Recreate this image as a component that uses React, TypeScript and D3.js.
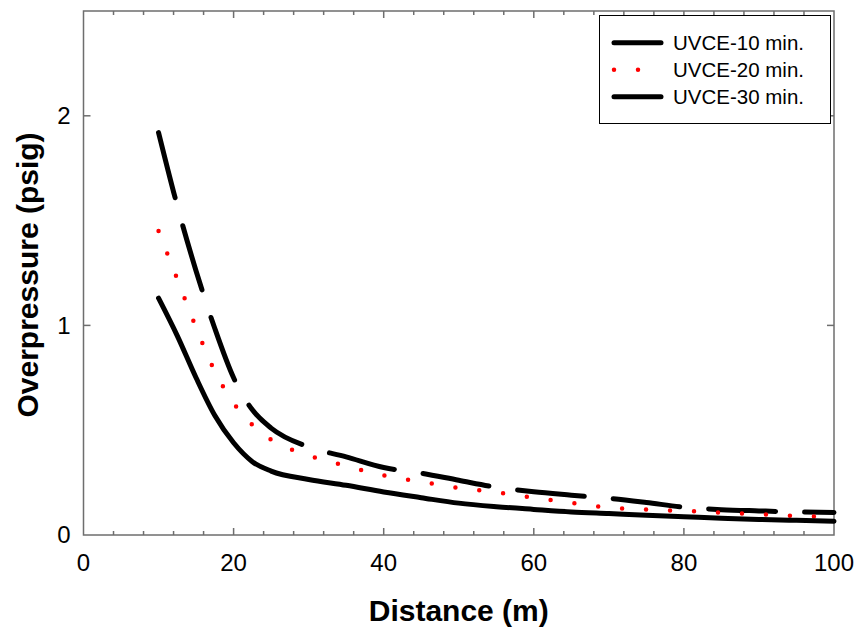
import { useEffect, useRef } from 'react';
import * as d3 from 'd3';

const distances = [10, 12.5, 15, 17.5, 20, 22.5, 25, 30, 35, 40, 45, 50, 55, 60, 65, 70, 75, 80, 85, 90, 95, 100];
const uvce10 = [1.92, 1.57, 1.26, 0.985, 0.75, 0.597, 0.51, 0.42, 0.373, 0.322, 0.295, 0.261, 0.228, 0.206, 0.19, 0.175, 0.155, 0.133, 0.121, 0.115, 0.11, 0.107];
const uvce20 = [1.45, 1.22, 0.99, 0.781, 0.63, 0.525, 0.455, 0.38, 0.33, 0.284, 0.254, 0.224, 0.204, 0.178, 0.154, 0.131, 0.121, 0.115, 0.106, 0.099, 0.091, 0.085];
const uvce30 = [1.13, 0.95, 0.75, 0.57, 0.44, 0.35, 0.305, 0.265, 0.237, 0.205, 0.178, 0.152, 0.135, 0.122, 0.11, 0.102, 0.094, 0.087, 0.08, 0.074, 0.07, 0.066];

const xMajor = [0, 20, 40, 60, 80, 100];
const yMajor = [0, 1, 2];

const series = [
  { name: 'UVCE-10 min.', values: uvce10, color: '#000', width: 5, dash: '67 29' },
  { name: 'UVCE-20 min.', values: uvce20, color: '#ff0000', width: 4.5, dash: '0 24' },
  { name: 'UVCE-30 min.', values: uvce30, color: '#000', width: 5, dash: null },
];

export default function App() {
  const svgRef = useRef<SVGSVGElement>(null);

  useEffect(() => {
    const width = 856;
    const height = 628;
    const margin = { top: 11, right: 22, bottom: 93, left: 83.5 };

    const svg = d3.select(svgRef.current);
    svg.selectAll('*').remove();

    const x = d3.scaleLinear().domain([0, 100]).range([margin.left, width - margin.right]);
    const y = d3.scaleLinear().domain([0, 2.5]).range([height - margin.bottom, margin.top]);
    const axisColor = '#6e6e6e';
    const font = 'Liberation Sans, Arial, sans-serif';

    const x0 = x(0), x1 = x(100), y0 = y(0), y1 = y(2.5);

    // frame
    svg.append('rect')
      .attr('x', x0).attr('y', y1)
      .attr('width', x1 - x0).attr('height', y0 - y1)
      .attr('fill', 'none').attr('stroke', axisColor).attr('stroke-width', 1.5);

    // ticks point inward on all four sides
    const xMinor = d3.range(4, 100, 4);
    const ticks = svg.append('g').attr('stroke', axisColor).attr('stroke-width', 1.5);
    xMinor.forEach(v => {
      const len = v % 20 === 0 ? 7 : 4;
      ticks.append('line').attr('x1', x(v)).attr('x2', x(v)).attr('y1', y0).attr('y2', y0 - len);
      ticks.append('line').attr('x1', x(v)).attr('x2', x(v)).attr('y1', y1).attr('y2', y1 + len);
    });
    yMajor.slice(1).forEach(v => {
      ticks.append('line').attr('x1', x0).attr('x2', x0 + 7).attr('y1', y(v)).attr('y2', y(v));
      ticks.append('line').attr('x1', x1).attr('x2', x1 - 7).attr('y1', y(v)).attr('y2', y(v));
    });

    svg.append('g').selectAll('text').data(xMajor).join('text')
      .attr('x', d => x(d)).attr('y', y0 + 36)
      .attr('text-anchor', 'middle')
      .attr('font-family', font).attr('font-size', 24)
      .text(d => d);

    svg.append('g').selectAll('text').data(yMajor).join('text')
      .attr('x', x0 - 13).attr('y', d => y(d)).attr('dy', '0.35em')
      .attr('text-anchor', 'end')
      .attr('font-family', font).attr('font-size', 24)
      .text(d => d);

    svg.append('text')
      .attr('x', (x0 + x1) / 2).attr('y', 621)
      .attr('text-anchor', 'middle')
      .attr('font-family', font).attr('font-size', 30).attr('font-weight', 'bold')
      .text('Distance (m)');

    svg.append('text')
      .attr('transform', `translate(38,275) rotate(-90)`)
      .attr('text-anchor', 'middle')
      .attr('font-family', font).attr('font-size', 30).attr('font-weight', 'bold')
      .text('Overpressure (psig)');

    const line = d3.line<number>()
      .x((_, i) => x(distances[i]))
      .y(d => y(d))
      .curve(d3.curveMonotoneX);

    series.forEach(s => {
      svg.append('path')
        .datum(s.values)
        .attr('fill', 'none')
        .attr('stroke', s.color)
        .attr('stroke-width', s.width)
        .attr('stroke-linecap', 'round')
        .attr('stroke-dasharray', s.dash)
        .attr('d', line);
    });

    // legend
    const lg = svg.append('g');
    lg.append('rect')
      .attr('x', 599.5).attr('y', 15.5).attr('width', 231).attr('height', 108)
      .attr('fill', '#fff').attr('stroke', '#000').attr('stroke-width', 1);
    series.forEach((s, i) => {
      const ly = 42.7 + i * 27;
      lg.append('line')
        .attr('x1', 614).attr('x2', 661).attr('y1', ly).attr('y2', ly)
        .attr('stroke', s.color).attr('stroke-width', s.width)
        .attr('stroke-linecap', 'round')
        .attr('stroke-dasharray', s.dash);
      lg.append('text')
        .attr('x', 673).attr('y', ly).attr('dy', '0.35em')
        .attr('font-family', font).attr('font-size', 20.5)
        .text(s.name);
    });
  }, []);

  return (
    <svg
      ref={svgRef}
      width={856}
      height={628}
      style={{ position: 'absolute', left: 0, top: 0, background: '#fff' }}
    />
  );
}
